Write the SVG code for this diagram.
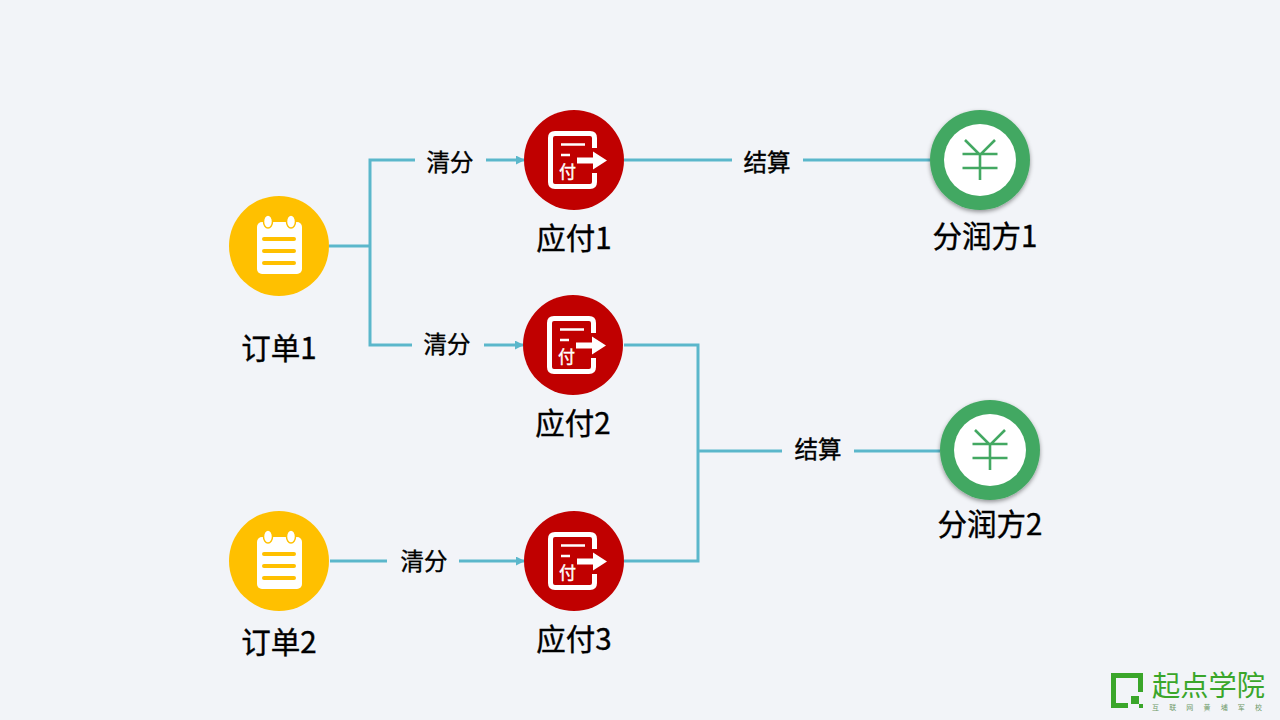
<svg xmlns="http://www.w3.org/2000/svg" width="1280" height="720" viewBox="0 0 1280 720">
<style>
text{font-family:"Noto Sans CJK SC","Noto Sans",sans-serif;fill:#000}
.lbl{font-size:29.5px;text-anchor:middle;stroke:#000;stroke-width:.4}
.edge{font-size:23.5px;text-anchor:middle;stroke:#000;stroke-width:.4}
.c{fill:none;stroke:#5bb7cb;stroke-width:3}
</style>
<defs>
<marker id="arr" viewBox="0 0 10 10" refX="9" refY="5" markerWidth="3" markerHeight="3" orient="auto"><path d="M0 0L10 5L0 10z" fill="#5bb7cb"/></marker>
<filter id="sh" x="-20%" y="-20%" width="140%" height="140%"><feDropShadow dx="0" dy="2" stdDeviation="2" flood-color="#000" flood-opacity=".4"/></filter>
<g id="order">
<circle r="50" fill="#ffc000"/>
<rect x="-22" y="-24" width="45" height="52" rx="5" fill="#fff"/>
<ellipse cx="-11" cy="-24.5" rx="4.5" ry="6.5" fill="#fff" stroke="#ffc000" stroke-width="1.5"/>
<ellipse cx="12" cy="-24.5" rx="4.5" ry="6.5" fill="#fff" stroke="#ffc000" stroke-width="1.5"/>
<path d="M-15-7H15M-15 5H15M-15 17H15" stroke="#ffc000" stroke-width="4" stroke-linecap="round"/>
</g>
<g id="pay">
<circle r="50" fill="#c00000"/>
<path d="M20.500-12V-22Q20.500-26.500 16-26.500H-19Q-23.500-26.500-23.500-22V22Q-23.500 26.500-19 26.500H16Q20.500 26.500 20.500 22V13" fill="none" stroke="#fff" stroke-width="5"/>
<path d="M-13-15.500H11M-13-5H-4" stroke="#fff" stroke-width="2.500" fill="none"/>
<path d="M3-2.500H19V-8.500L33 0.500L19 9.500V3.500H3z" fill="#fff"/>
<text x="-6.500" y="18" font-size="17" text-anchor="middle" style="fill:#fff;stroke:#fff;stroke-width:.4">付</text>
</g>
<g id="party">
<circle r="50" fill="#43a862" filter="url(#sh)"/>
<circle r="36" fill="#fff"/>
<path d="M-15-20L0-5L15-20M-17.500-6H17.500M-17.500 8H17.500M0-5V20" fill="none" stroke="#43a862" stroke-width="2.600"/>
</g>
</defs>
<rect width="1280" height="720" fill="#f2f4f8"/>
<g id="connectors">
<path class="c" d="M329 246H370"/>
<path class="c" d="M415 160H370V345H412"/>
<path class="c" marker-end="url(#arr)" d="M486 160H524"/>
<path class="c" marker-end="url(#arr)" d="M484 345H523"/>
<path class="c" d="M330 561H387"/>
<path class="c" marker-end="url(#arr)" d="M459 561H524"/>
<path class="c" d="M624 160H732"/>
<path class="c" d="M803 160H930"/>
<path class="c" d="M624 345H698V561H624"/>
<path class="c" d="M698 451H782"/>
<path class="c" d="M854 451H940"/>
</g>
<g id="order1"><use href="#order" x="279" y="246"/><text class="lbl" x="279" y="359">订单1</text></g>
<g id="order2"><use href="#order" x="279" y="561"/><text class="lbl" x="279" y="653">订单2</text></g>
<g id="pay1"><use href="#pay" x="574" y="160"/><text class="lbl" x="574" y="249">应付1</text></g>
<g id="pay2"><use href="#pay" x="573" y="345"/><text class="lbl" x="573" y="434">应付2</text></g>
<g id="pay3"><use href="#pay" x="574" y="561"/><text class="lbl" x="574" y="650">应付3</text></g>
<g id="party1"><use href="#party" x="980" y="160"/><text class="lbl" x="985" y="247">分润方1</text></g>
<g id="party2"><use href="#party" x="990" y="450"/><text class="lbl" x="990" y="535">分润方2</text></g>
<g id="labels">
<text class="edge" x="450" y="171">清分</text>
<text class="edge" x="447" y="353">清分</text>
<text class="edge" x="424" y="570">清分</text>
<text class="edge" x="767" y="171">结算</text>
<text class="edge" x="818" y="458">结算</text>
</g>
<g id="logo" fill="#3aa62a">
<path d="M1143 673H1111V708H1128V703H1116V678H1138V692H1143z"/>
<rect x="1131" y="696" width="8" height="8"/>
<rect x="1139" y="704" width="4" height="4"/>
<text x="1152" y="696" font-size="28" textLength="113" lengthAdjust="spacingAndGlyphs" style="fill:#3aa62a">起点学院</text>
<text x="1152" y="710" font-size="7" textLength="110" style="fill:#6f9a69">互联网黄埔军校</text>
</g>
</svg>
